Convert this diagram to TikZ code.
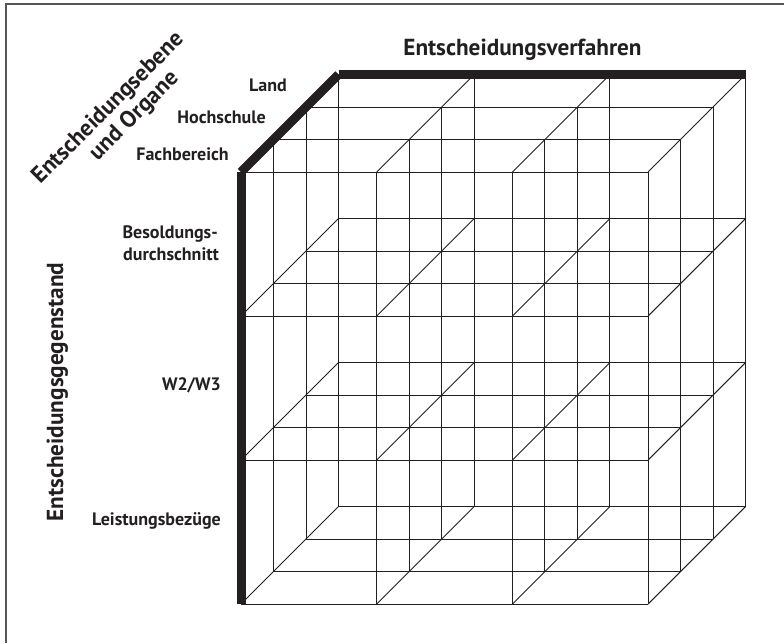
\documentclass[tikz,border=0pt]{standalone}
\usepackage{fontspec}
\setmainfont{PT Sans}
\definecolor{ink}{HTML}{231F20}
\definecolor{framecol}{HTML}{555555}
\begin{document}
\begin{tikzpicture}[x=1pt,y=-1pt,
  gridline/.style={draw=ink, line width=0.9pt},
  heavy/.style={draw=ink, line width=9pt, line cap=butt},
  title/.style={font=\fontsize{23.2}{26}\selectfont\bfseries, text=ink, inner sep=0pt},
  lab/.style={font=\fontsize{18}{20}\selectfont\bfseries, text=ink, inner sep=0pt}]
\useasboundingbox (0,0) rectangle (784,643);
\draw[draw=framecol, line width=1.3pt] (6,643) -- (6,4) -- (784,4);
% lattice points
\foreach \i in {0,1,2,3}{
  \foreach \j in {0,1,2,3}{
    \foreach \k in {0,1,2,3}{
      \coordinate (p-\i-\j-\k) at ({241+135.7*\i+32.5*\k},{604-144*\j-32.5*\k});
    }}}
% x-lines
\foreach \j in {0,1,2,3}{\foreach \k in {0,1,2,3}{\draw[gridline] (p-0-\j-\k) -- (p-3-\j-\k);}}
% y-lines
\foreach \i in {0,1,2,3}{\foreach \k in {0,1,2,3}{\draw[gridline] (p-\i-0-\k) -- (p-\i-3-\k);}}
% z-lines
\foreach \i in {0,1,2,3}{\foreach \j in {0,1,2,3}{\draw[gridline] (p-\i-\j-0) -- (p-\i-\j-3);}}
% heavy axes
\draw[heavy] (p-0-0-0) -- (p-0-3-0);
\draw[heavy] (p-0-3-0) -- (p-0-3-3);
\draw[heavy] (p-0-3-3) -- (p-3-3-3);
% titles
\node[title, anchor=base] (tverf) at (522.5,55) {Entscheidungsverfahren};
\node[title, anchor=base, rotate=90] (tgeg) at (63,392) {Entscheidungsgegenstand};
\node[title, anchor=base, rotate=45] (tebe1) at (112.5,112.5) {Entscheidungsebene};
\node[title, anchor=base, rotate=45] (tebe2) at (138.5,120.5) {und Organe};
% labels
\node[lab, anchor=base east] (land) at (287,91) {Land};
\node[lab, anchor=base east] (hoch) at (266,123) {Hochschule};
\node[lab, anchor=base east] (fach) at (229,160) {Fachbereich};
\node[lab, anchor=base east] (bes1) at (218,238) {Besoldungs-};
\node[lab, anchor=base east] (bes2) at (219,260) {durchschnitt};
\node[lab, anchor=base east] (w23) at (221,390) {W2/W3};
\node[lab, anchor=base east] (leist) at (221,525) {Leistungsbezüge};
\end{tikzpicture}
\end{document}
